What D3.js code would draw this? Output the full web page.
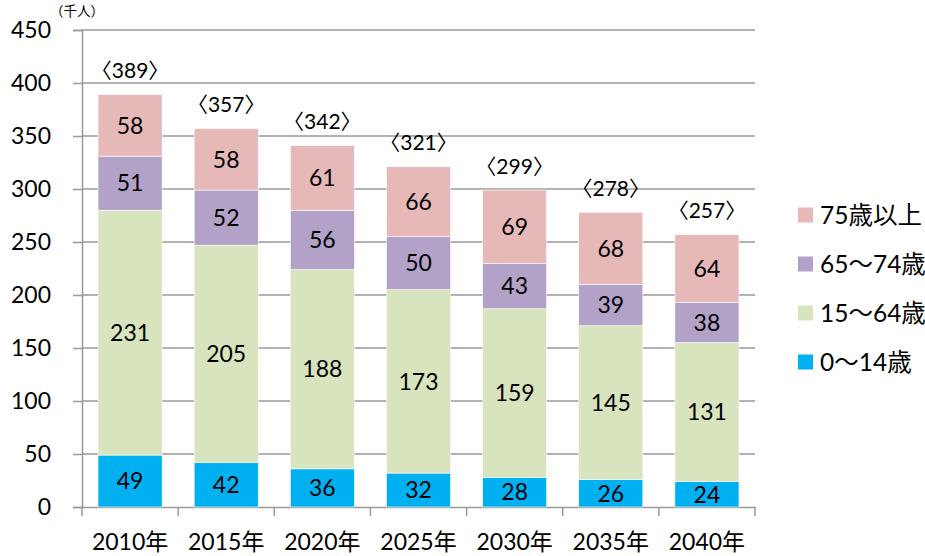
<!DOCTYPE html>
<html><head><meta charset="utf-8">
<script src="https://cdn.jsdelivr.net/npm/d3@7"></script>
<style>
html,body{margin:0;padding:0;background:#fff;}
text{font-family:Lato,"Noto Sans CJK JP",sans-serif;fill:#000;}
</style></head><body>
<svg id="c" width="925" height="556"></svg>
<script>
const years = ["2010年","2015年","2020年","2025年","2030年","2035年","2040年"];
const age0_14 = [49,42,36,32,28,26,24];
const age15_64 = [231,205,188,173,159,145,131];
const age65_74 = [51,52,56,50,43,39,38];
const age75plus = [58,58,61,66,69,68,64];
const totals = [389,357,342,321,299,278,257];
const seriesNames = ["0〜14歳","15〜64歳","65〜74歳","75歳以上"];
const seriesColors = ["#00b0f0","#d7e4bd","#b3a2c7","#e6b9b8"];
const yTicks = [0,50,100,150,200,250,300,350,400,450];
const unitLabel = "（千人）";

const seriesVals = [age0_14, age15_64, age65_74, age75plus];
const rows = years.map((y,i)=>{const r={year:y}; seriesNames.forEach((s,k)=>r[s]=seriesVals[k][i]); return r;});
const stacked = d3.stack().keys(seriesNames)(rows);

const svg = d3.select("#c");
const L=82, R=755, T=30, B=507;
const x = d3.scaleBand().domain(years).range([L,R]).paddingInner(1/3).paddingOuter(1/6);
const y = d3.scaleLinear().domain([0,450]).range([B,T]);

// gridlines
svg.append("g").selectAll("line").data(yTicks.filter(d=>d>0)).join("line")
  .attr("x1",L).attr("x2",R).attr("y1",d=>y(d)).attr("y2",d=>y(d))
  .attr("stroke","#999").attr("stroke-width",1.5);

// y axis
const ya = svg.append("g").attr("transform",`translate(${L},0)`)
  .call(d3.axisLeft(y).tickValues(yTicks).tickSize(9).tickPadding(22));
ya.select(".domain").attr("stroke","#999").attr("stroke-width",1.5);
ya.selectAll(".tick line").attr("stroke","#999").attr("stroke-width",1.5);
ya.selectAll(".tick text").attr("font-size",23).attr("font-family","Lato,sans-serif").attr("fill","#000");

// x axis
const xa = svg.append("g").attr("transform",`translate(0,${B})`)
  .call(d3.axisBottom(x).tickSize(0).tickPadding(27));
xa.select(".domain").attr("stroke","#999").attr("stroke-width",1.5);
xa.selectAll(".tick text").attr("font-size",23).attr("fill","#000");
// category boundary ticks
const bounds = d3.range(years.length+1).map(i=>L+i*x.step());
svg.append("g").selectAll("line").data(bounds).join("line")
  .attr("x1",d=>d).attr("x2",d=>d).attr("y1",B).attr("y2",B+9)
  .attr("stroke","#999").attr("stroke-width",1.5);

// bars
stacked.forEach((s,k)=>{
  const g = svg.append("g");
  g.selectAll("rect").data(s).join("rect")
    .attr("x",d=>x(d.data.year)).attr("width",x.bandwidth())
    .attr("y",d=>y(d[1])).attr("height",d=>y(d[0])-y(d[1]))
    .attr("fill",seriesColors[k]).attr("stroke","#fff").attr("stroke-width",0.6);
  g.selectAll("text").data(s).join("text")
    .attr("x",d=>x(d.data.year)+x.bandwidth()/2)
    .attr("y",d=>(y(d[0])+y(d[1]))/2)
    .attr("dy","0.36em").attr("text-anchor","middle").attr("font-size",23)
    .text(d=>d[1]-d[0]);
});

// totals
svg.append("g").selectAll("text").data(years).join("text")
  .attr("x",d=>x(d)+x.bandwidth()/2)
  .attr("y",(d,i)=>y(d3.sum(seriesVals,s=>s[i]))-24)
  .attr("dy","0.36em").attr("text-anchor","middle").attr("font-size",21)
  .text((d,i)=>"〈"+totals[i]+"〉");

// unit label
svg.append("text").attr("x",50).attr("y",16).attr("font-size",13.5).text(unitLabel);

// legend
const legOrder = [3,2,1,0];
const lg = svg.append("g");
legOrder.forEach((k,j)=>{
  const cy = 215 + j*49;
  lg.append("rect").attr("x",798).attr("y",cy-7.5).attr("width",15).attr("height",15).attr("fill",seriesColors[k]);
  lg.append("text").attr("x",820).attr("y",cy).attr("dy","0.36em").attr("font-size",24.5).text(seriesNames[k]);
});
</script>
</body></html>
